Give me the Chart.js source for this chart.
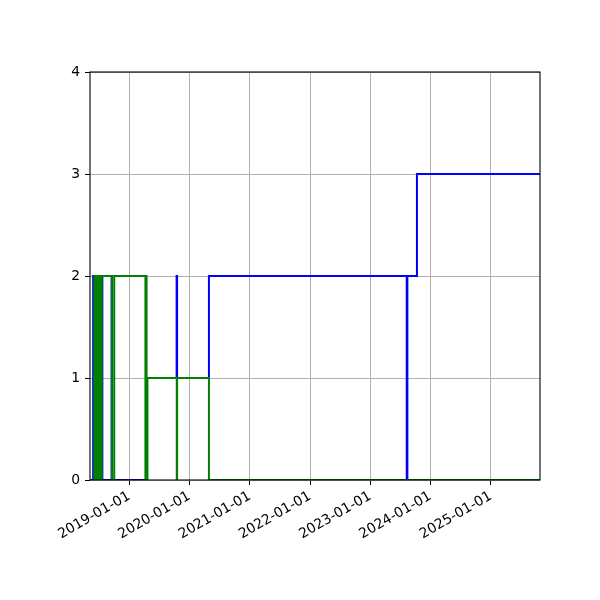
<!DOCTYPE html>
<html>
<head>
<meta charset="utf-8">
<script src="https://cdn.jsdelivr.net/npm/chart.js@4"></script>
<style>
html,body{margin:0;padding:0;background:#ffffff;}
canvas{display:block;}
</style>
</head>
<body>
<canvas id="c" width="600" height="600"></canvas>
<script>
// ---- data ----
const blueDates = ['2018-05-12','2018-05-27','2018-06-08','2018-07-19','2018-07-22','2018-09-16','2018-09-19',
  '2019-04-19','2019-10-15','2019-10-18','2020-04-28','2023-08-10','2023-08-14','2023-10-11','2025-10-26'];
const blueValues = [0,2,0,2,0,2,0,1,2,1,2,0,2,3,3];

const greenDates = ['2018-05-31','2018-06-03','2018-06-06','2018-06-09','2018-06-12','2018-06-15','2018-06-18',
  '2018-06-21','2018-06-24','2018-06-27','2018-06-30','2018-07-03','2018-07-06','2018-07-09','2018-07-12',
  '2018-07-15','2018-07-18','2018-09-18','2018-10-02',
  '2019-04-09','2019-04-13','2019-04-16','2019-04-21','2019-10-16','2019-10-18','2020-04-28','2025-10-26'];
const greenValues = [2,0,2,0,2,0,2,0,2,0,2,0,2,0,2,0,2,0,2,0,2,0,1,0,1,0,0];

const xTickDates = ['2019-01-01','2020-01-01','2021-01-01','2022-01-01','2023-01-01','2024-01-01','2025-01-01'];
const yTicks = [0,1,2,3,4];
const xMinDate = '2018-05-08';
const xMaxDate = '2025-10-26';

// ---- helpers ----
function toMs(s){ const p = s.split('-').map(Number); return Date.UTC(p[0], p[1]-1, p[2]); }
function fmt(ms){ const d = new Date(ms); const m = String(d.getUTCMonth()+1).padStart(2,'0'); const dd = String(d.getUTCDate()).padStart(2,'0'); return d.getUTCFullYear()+'-'+m+'-'+dd; }
function pts(dates, vals){ return dates.map((d,i)=>({x: toMs(d), y: vals[i]})); }

const FONT = {family: 'DejaVu Sans', size: 13.9};

const framePlugin = {
  id: 'frame',
  afterDraw(chart){
    const a = chart.chartArea, ctx = chart.ctx;
    ctx.save();
    ctx.strokeStyle = '#000000';
    ctx.lineWidth = 1.1;
    ctx.strokeRect(a.left, a.top, a.right - a.left, a.bottom - a.top);
    ctx.restore();
  }
};

new Chart(document.getElementById('c'), {
  type: 'line',
  data: {
    datasets: [
      {data: pts(blueDates, blueValues), borderColor: '#0000ff', borderWidth: 2, pointRadius: 0, stepped: 'before', order: 2, fill: false},
      {data: pts(greenDates, greenValues), borderColor: '#008000', borderWidth: 2, pointRadius: 0, stepped: 'before', order: 1, fill: false}
    ]
  },
  options: {
    responsive: false,
    animation: false,
    layout: {padding: {top: 72, right: 60, left: 0, bottom: 0}},
    plugins: {legend: {display: false}, tooltip: {enabled: false}},
    scales: {
      x: {
        type: 'linear',
        min: toMs(xMinDate),
        max: toMs(xMaxDate),
        afterBuildTicks(scale){ scale.ticks = xTickDates.map(d => ({value: toMs(d)})); },
        afterFit(scale){ scale.height = 120; scale.paddingLeft = 0; scale.paddingRight = 0; },
        ticks: {
          callback: (v) => fmt(v),
          color: '#000000',
          font: FONT,
          minRotation: 30,
          maxRotation: 30,
          autoSkip: false,
          padding: 3
        },
        grid: {color: '#b0b0b0', lineWidth: 1, drawTicks: true, tickLength: 5, tickColor: '#000000', tickWidth: 1},
        border: {display: false}
      },
      y: {
        type: 'linear',
        min: 0,
        max: 4,
        afterBuildTicks(scale){ scale.ticks = yTicks.map(v => ({value: v})); },
        afterFit(scale){ scale.width = 90; scale.paddingTop = 0; scale.paddingBottom = 0; },
        ticks: {color: '#000000', font: FONT, padding: 5, callback: (v) => String(v)},
        grid: {color: '#b0b0b0', lineWidth: 1, drawTicks: true, tickLength: 5, tickColor: '#000000', tickWidth: 1},
        border: {display: false}
      }
    }
  },
  plugins: [framePlugin]
});
</script>
</body>
</html>
